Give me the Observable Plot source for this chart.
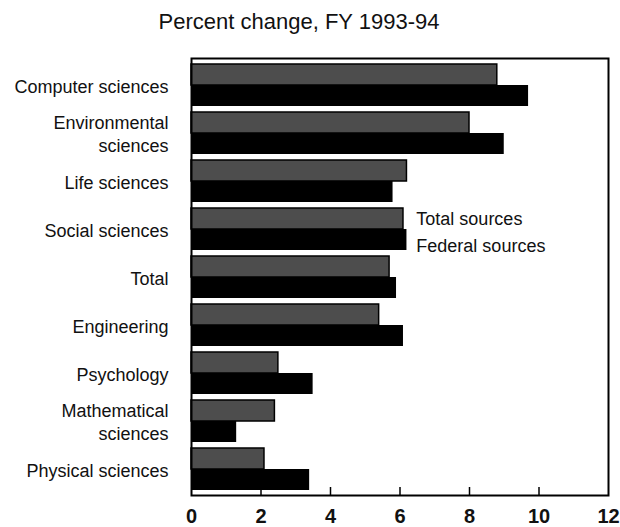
<!DOCTYPE html>
<html>
<head>
<meta charset="utf-8">
<script src="https://cdn.jsdelivr.net/npm/d3@7"></script>
<script src="https://cdn.jsdelivr.net/npm/@observablehq/plot@0.6"></script>
<style>
  body { margin: 0; background: #fff; }
  #title { width: 620px; height: 44px; box-sizing: border-box; padding-top: 9px; text-align: center;
           font-family: "Liberation Sans", Arial, sans-serif;
           font-size: 22px; line-height: 26px; color: #111; padding-right: 22px; }
  svg { display: block; }
</style>
</head>
<body>
<div id="title">Percent change, FY 1993-94</div>
<div id="chart"></div>
<script>
const categories = [
  "Computer sciences",
  "Environmental\nsciences",
  "Life sciences",
  "Social sciences",
  "Total",
  "Engineering",
  "Psychology",
  "Mathematical\nsciences",
  "Physical sciences"
];
const totalSources   = [8.8, 8.0, 6.2, 6.1, 5.7, 5.4, 2.5, 2.4, 2.1];
const federalSources = [9.7, 9.0, 5.8, 6.2, 5.9, 6.1, 3.5, 1.3, 3.4];
const seriesNames = ["Total sources", "Federal sources"];
const xTicks = [0, 2, 4, 6, 8, 10, 12];
const innerTicks = [2, 4, 6, 8, 10];

const totalData = categories.map((c, i) => ({category: c, value: totalSources[i]}));
const federalData = categories.map((c, i) => ({category: c, value: federalSources[i]}));

const font = '"Liberation Sans", Arial, sans-serif';

const chart = Plot.plot({
  width: 620,
  height: 483,
  marginTop: 14,
  marginBottom: 32,
  marginLeft: 191,
  marginRight: 12,
  style: {fontFamily: font, background: "#fff", color: "#111"},
  x: {domain: [0, 12]},
  y: {domain: categories, paddingInner: 0.134, paddingOuter: 0.04, align: 0.5},
  marks: [
    Plot.barX(totalData, {x: "value", y: "category", fill: "#4d4d4d", stroke: "#000", strokeWidth: 1.5, insetBottom: 21}),
    Plot.barX(federalData, {x: "value", y: "category", fill: "#000", insetTop: 21}),
    Plot.ruleX(innerTicks, {x: d => d, stroke: "#000", strokeWidth: 1.5, insetTop: 429}),
    Plot.frame({stroke: "#000", strokeWidth: 2}),
    Plot.axisY({tickSize: 0, tickPadding: 23, fontSize: 18, lineHeight: 1.25, label: null}),
    Plot.axisX({ticks: xTicks, tickSize: 0, tickPadding: 13, fontSize: 20, fontWeight: "bold", label: null, tickFormat: d => String(d)}),
    Plot.text([seriesNames[0]], {x: 6.47, y: () => "Social sciences", dy: -10, text: d => d,
      textAnchor: "start", fontSize: 18}),
    Plot.text([seriesNames[1]], {x: 6.47, y: () => "Social sciences", dy: 17, text: d => d,
      textAnchor: "start", fontSize: 18})
  ]
});
document.getElementById("chart").appendChild(chart);
</script>
</body>
</html>
